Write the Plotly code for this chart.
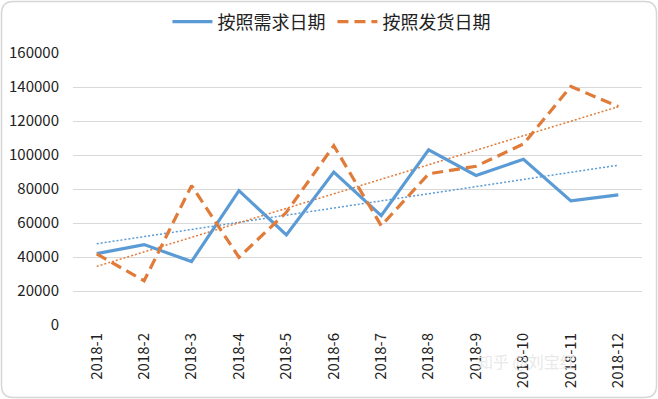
import numpy as np
import plotly.graph_objects as go

months = ["2018-1", "2018-2", "2018-3", "2018-4", "2018-5", "2018-6",
          "2018-7", "2018-8", "2018-9", "2018-10", "2018-11", "2018-12"]
demand = [42000, 47300, 37300, 79000, 53000, 90000,
          64300, 103000, 88000, 97500, 73000, 76500]
shipping = [41800, 26000, 82000, 39800, 66300, 105500,
            58400, 88900, 93400, 106500, 140300, 128500]
y_ticks = [0, 20000, 40000, 60000, 80000, 100000, 120000, 140000, 160000]

BLUE = "#5B9BD5"
ORANGE = "#E07B39"

xi = np.arange(1, len(months) + 1)
def trend(vals):
    k, b = np.polyfit(xi, np.array(vals, dtype=float), 1)
    return (k * xi + b).tolist()

fig = go.Figure()
fig.add_trace(go.Scatter(x=months, y=trend(demand), mode="lines",
                         line=dict(color=BLUE, width=1.5, dash="2px,2px"),
                         showlegend=False, hoverinfo="skip"))
fig.add_trace(go.Scatter(x=months, y=trend(shipping), mode="lines",
                         line=dict(color=ORANGE, width=1.5, dash="2px,2px"),
                         showlegend=False, hoverinfo="skip"))
fig.add_trace(go.Scatter(x=months, y=demand, mode="lines", name="按照需求日期",
                         line=dict(color=BLUE, width=3.2)))
fig.add_trace(go.Scatter(x=months, y=shipping, mode="lines", name="按照发货日期",
                         line=dict(color=ORANGE, width=3.2, dash="11px,6px")))

W, H = 658, 399
L, R, T, B = 73, 16, 53, 74
pw, ph = W - L - R, H - T - B
def px(x): return (x - L) / pw
def py(y): return (H - B - y) / ph
x0, x1, y0, y1, r = 1.5, 656.5, 1.5, 397.5, 12
path = (f"M {px(x0+r)},{py(y0)} L {px(x1-r)},{py(y0)} "
        f"Q {px(x1)},{py(y0)} {px(x1)},{py(y0+r)} "
        f"L {px(x1)},{py(y1-r)} Q {px(x1)},{py(y1)} {px(x1-r)},{py(y1)} "
        f"L {px(x0+r)},{py(y1)} Q {px(x0)},{py(y1)} {px(x0)},{py(y1-r)} "
        f"L {px(x0)},{py(y0+r)} Q {px(x0)},{py(y0)} {px(x0+r)},{py(y0)} Z")

fig.update_layout(
    width=W, height=H,
    margin=dict(l=L, r=R, t=T, b=B, autoexpand=False),
    paper_bgcolor="white", plot_bgcolor="white",
    font=dict(family="Noto Sans CJK SC, Noto Sans, sans-serif", color="#222222", size=15),
    legend=dict(orientation="h", x=0.456, xanchor="center", y=1 - 22 / H, yref="container",
                yanchor="middle", font=dict(size=18, color="#222222"),
                itemwidth=40, entrywidth=110, tracegroupgap=0, bgcolor="rgba(0,0,0,0)"),
    xaxis=dict(type="category", range=[-0.5, 11.5], tickangle=-90, showgrid=False,
               zeroline=False, showline=False, ticks="", tickfont=dict(size=15),
               ticklabelstandoff=4, automargin=False),
    yaxis=dict(range=[0, 160000], tickvals=y_ticks, ticktext=[str(v) for v in y_ticks],
               showgrid=True, gridcolor="#D9D9D9", gridwidth=1, zeroline=False,
               showline=False, ticks="", tickfont=dict(size=15), ticklabelstandoff=13,
               automargin=False),
    shapes=[dict(type="path", path=path, xref="paper", yref="paper",
                 line=dict(color="#D6D6D6", width=1.5), layer="below")],
    annotations=[dict(text="知乎 @刘宝红", x=px(578), y=py(375), xref="paper", yref="paper",
                      showarrow=False, font=dict(size=16, color="rgba(230,230,230,0.9)"))],
)

fig.write_html("out.html", config={"displayModeBar": False},
               post_script="document.body.style.margin='0';")
